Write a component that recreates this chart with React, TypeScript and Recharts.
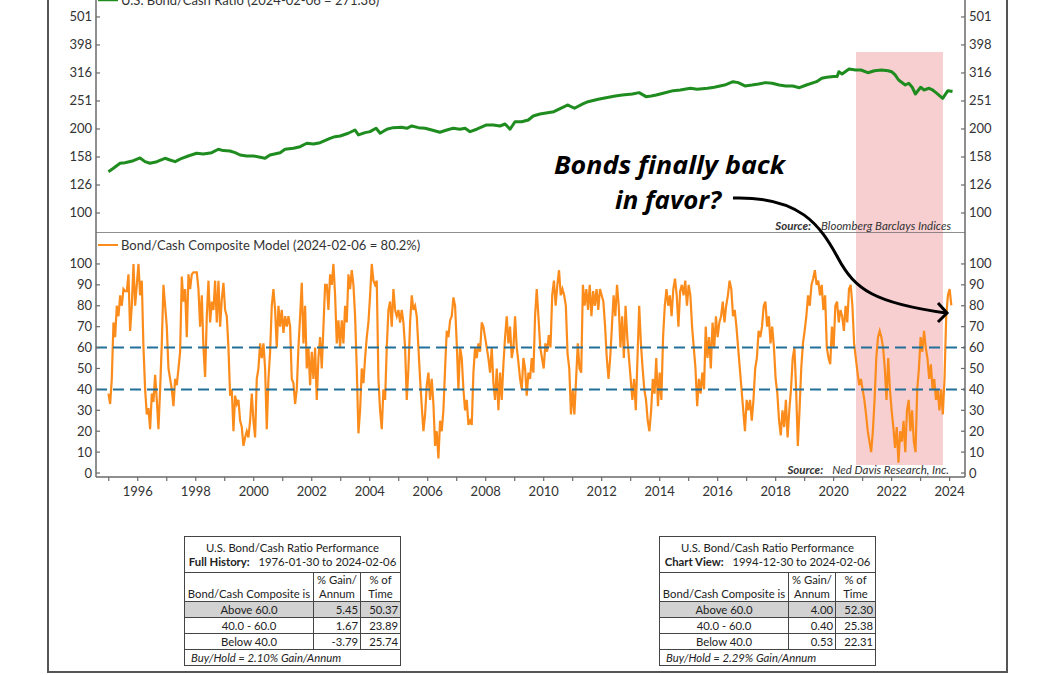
import { Line, LineChart, ReferenceArea, ReferenceLine, XAxis, YAxis } from "recharts";

// ---- top panel: U.S. Bond/Cash Ratio (log scale) ----
const ratioDates = [
  1994.99, 1995.16, 1995.39, 1995.56, 1995.85, 1996.08, 1996.25, 1996.42, 1996.66, 1996.94,
  1997.11, 1997.29, 1997.52, 1997.74, 1998.03, 1998.26, 1998.55, 1998.78, 1998.95, 1999.18,
  1999.36, 1999.53, 1999.76, 1999.99, 2000.22, 2000.39, 2000.56, 2000.91, 2001.08, 2001.37,
  2001.6, 2001.83, 2002.06, 2002.29, 2002.63, 2002.8, 2002.98, 2003.26, 2003.49, 2003.61,
  2003.84, 2004.01, 2004.22, 2004.36, 2004.59, 2004.81, 2005.1, 2005.28, 2005.45, 2005.68,
  2005.91, 2006.14, 2006.42, 2006.66, 2006.88, 2007.11, 2007.29, 2007.46, 2007.69, 2008.03,
  2008.26, 2008.49, 2008.67, 2008.84, 2009.01, 2009.24, 2009.47, 2009.64, 2009.87, 2010.35,
  2010.71, 2010.82, 2011.06, 2011.35, 2011.53, 2011.88, 2012.24, 2012.47, 2012.71, 2013.06,
  2013.29, 2013.53, 2013.71, 2013.88, 2014.12, 2014.47, 2014.71, 2015.06, 2015.29, 2015.65,
  2015.88, 2016.24, 2016.53, 2016.71, 2016.94, 2017.18, 2017.41, 2017.65, 2017.88, 2018.12,
  2018.35, 2018.59, 2018.82, 2019.06, 2019.41, 2019.59, 2019.76, 2020.0, 2020.12, 2020.18,
  2020.29, 2020.53, 2020.76, 2020.94, 2021.18, 2021.41, 2021.65, 2021.88, 2022.0, 2022.12,
  2022.24, 2022.47, 2022.59, 2022.71, 2022.82, 2023.0, 2023.12, 2023.29, 2023.41, 2023.53,
  2023.76, 2023.94, 2024.1
];
const ratioValues = [
  140.4, 144.4, 150.5, 151.2, 153.7, 157.2, 152.5, 150.5, 152.5, 156.8,
  154.6, 152.5, 156.8, 159.8, 163.4, 162.4, 164.2, 168.9, 167, 166.5,
  164.2, 161.1, 159.8, 159.8, 158.1, 156.8, 161.1, 164.2, 168.9, 170.2,
  172.5, 177.4, 176.4, 178.3, 184.8, 187.3, 188.4, 192.6, 197.9, 190,
  193.6, 195.2, 200.7, 192.6, 199.1, 201.7, 202.4, 200.7, 204.5, 201.7,
  200.7, 197.9, 194.2, 197.9, 200.7, 199.1, 200.7, 195.2, 199.1, 206.2,
  206.2, 204.5, 207.9, 199.1, 211.8, 211.8, 214.8, 222, 225.7, 230,
  239.8, 243.1, 236.6, 245.1, 249.7, 254.7, 258.8, 261.7, 263.8, 266.1,
  269, 260.3, 261.7, 263.8, 267.6, 273.4, 275, 278.8, 276.6, 278.8,
  281.2, 286.4, 294.4, 292.1, 284.2, 286.4, 288.9, 292.1, 290.6, 286.4,
  284.2, 284.2, 280.2, 286.4, 294.4, 302.7, 305.3, 306.9, 306.9, 319.6,
  313.6, 326.6, 324.1, 324.1, 316.9, 322.2, 324.1, 322.2, 319.6, 311.1,
  298.5, 286.4, 290.6, 281.2, 266, 281.2, 275, 278.8, 275, 269,
  256.8, 273.4, 271.36
];
const ratioTicks = [100, 125.89, 158.49, 199.53, 251.19, 316.23, 398.11, 501.19];
const ratioDomain = [84.83, 679.2];

// ---- bottom panel: Bond/Cash Composite Model, sampled on a regular date grid ----
const compositeStartA = 1994.99;
const compositeStepA = 5 / 87;
const compositeA = [
  38, 33, 45, 72, 65, 80, 75, 85, 80, 88, 87, 87, 95, 68, 80, 100, 80, 90, 100, 85,
  92, 60, 40, 28, 31, 21, 38, 34, 47, 35, 21, 40, 62, 90, 80, 70, 50, 45, 40, 32,
  45, 42, 50, 58, 94, 82, 88, 65, 95, 88, 95, 96, 96, 96, 88, 70, 85, 60, 46, 75,
  92, 72, 82, 78, 92, 72, 92, 70, 83, 91, 78, 75, 60, 37, 40, 20, 37, 33, 35, 25,
  22, 13, 17, 20, 17, 25, 38, 25, 17, 45, 50, 62, 55, 62, 50, 21, 45, 58, 80, 88,
  78, 60, 80, 70, 78, 67, 75, 70, 75, 70, 45, 43, 33, 40, 60, 75, 91, 62, 80, 50,
  60, 42, 58, 45, 60, 35, 55, 65, 50, 70, 90, 90, 78, 95, 90, 100, 85, 62, 73, 60,
  73, 62, 80, 72, 95, 88, 97, 90, 75, 50, 19, 30, 50, 43, 55, 65, 72, 85, 100, 92,
  90, 92, 45, 30, 21, 40, 35, 60, 78, 82, 70, 88, 78, 75, 78, 72, 78, 72, 60, 35,
  50, 72, 85, 78, 80, 75, 60, 45, 32, 20, 28, 42, 48, 35, 45, 33, 13, 20, 7, 25,
  20, 30, 50, 68, 65, 73, 75, 84, 80, 62, 40, 60, 55, 40, 30, 35, 23, 25, 23, 48,
  60, 55, 62, 58, 72, 70, 65, 60, 55, 48, 60, 43, 35, 50, 30, 48, 35, 52, 65, 75,
  62, 70, 55, 60, 75, 60, 53, 45, 40, 55, 50, 37, 48, 45, 55, 48, 75, 88, 75
];
const compositeStartB = 2009.882;
const compositeStepB = 5 / 85;
const compositeB = [
  60, 55, 50, 62, 58, 66, 60, 85, 92, 80, 90, 97, 85, 88, 85, 80, 57, 50, 28, 40,
  28, 45, 62, 50, 48, 90, 80, 88, 78, 90, 75, 87, 80, 88, 78, 88, 85, 82, 70, 55,
  45, 55, 70, 85, 75, 90, 80, 60, 75, 55, 80, 65, 55, 45, 35, 45, 30, 55, 80, 62,
  50, 40, 35, 25, 20, 30, 45, 38, 55, 32, 48, 35, 65, 80, 88, 80, 85, 75, 88, 93,
  85, 70, 87, 90, 85, 92, 80, 90, 85, 70, 60, 50, 32, 45, 38, 48, 40, 70, 55, 65,
  50, 72, 60, 75, 65, 72, 75, 82, 72, 80, 85, 92, 88, 75, 78, 70, 60, 50, 40, 30,
  20, 35, 30, 35, 25, 35, 50, 55, 68, 65, 70, 80, 82, 70, 75, 62, 70, 60, 45, 38,
  25, 18, 30, 22, 35, 17, 30, 40, 55, 60, 40, 13, 30, 50, 62, 68, 75, 85, 80, 90,
  93, 97, 90, 92, 85, 90, 78, 85, 60, 55, 52, 70, 60, 80, 82, 72, 78, 75, 68, 80,
  72, 88, 90, 80, 62, 55, 48, 42, 45, 40, 35, 28, 20, 15, 10, 20, 35, 55, 65, 68,
  65, 60, 50, 35, 55, 40, 30, 22, 12, 22, 5, 20, 15, 25, 10, 30, 35, 20, 30, 15,
  10, 40, 50, 65, 58, 68, 60, 55, 45, 52, 40, 45, 35, 40, 30, 40, 28, 45, 75, 85,
  88, 80.2
];
const compositeTicks = [0, 10, 20, 30, 40, 50, 60, 70, 80, 90, 100];
const compositeDomain = [-1.9, 114.8];
const thresholds = [60, 40];

const yearTicks = [
  1995, 1996, 1997, 1998, 1999, 2000, 2001, 2002, 2003, 2004, 2005, 2006, 2007, 2008, 2009,
  2010, 2011, 2012, 2013, 2014, 2015, 2016, 2017, 2018, 2019, 2020, 2021, 2022, 2023, 2024
];
const xDomain = [1994.56, 2024.53];

// shaded period (late 2020 to late 2023)
const shadeStart = 2020.77;
const shadeEnd = 2023.77;
const shadeRatioTop = 376;
const shadeCompositeBottom = 3.8;

// ---- tables ----
const tableRows = ["Above 60.0", "40.0 - 60.0", "Below 40.0"];
const fullGain = [5.45, 1.67, -3.79];
const fullTime = [50.37, 23.89, 25.74];
const viewGain = [4.0, 0.4, 0.53];
const viewTime = [52.3, 25.38, 22.31];

const ratioData = ratioDates.map((t, i) => ({ t, v: ratioValues[i] }));
const compositeData = [
  ...compositeA.map((v, i) => ({ t: compositeStartA + i * compositeStepA, v })),
  ...compositeB.map((v, i) => ({ t: compositeStartB + i * compositeStepB, v }))
];

const AXIS = "#6a6a6a";
const LABEL = "#333";
const GREEN = "#1f8c1f";
const ORANGE = "#fb8c1c";
const DASH = "#22709a";
const PINK = "#f8cfd1";

function leftTick(fmt: (v: number) => string) {
  return (props: any) => {
    const { x, y, payload } = props;
    return (
      <g>
        <line x1={x + 4} x2={x + 8} y1={y} y2={y} stroke={AXIS} strokeWidth={1.2} />
        <text x={x} y={y} dy={4.5} textAnchor="end" fontSize={13} fill={LABEL}>
          {fmt(payload.value)}
        </text>
      </g>
    );
  };
}

function rightTick(fmt: (v: number) => string) {
  return (props: any) => {
    const { x, y, payload } = props;
    return (
      <g>
        <line x1={x - 4} x2={x - 8} y1={y} y2={y} stroke={AXIS} strokeWidth={1.2} />
        <text x={x} y={y} dy={4.5} textAnchor="start" fontSize={13} fill={LABEL}>
          {fmt(payload.value)}
        </text>
      </g>
    );
  };
}

const roundFmt = (v: number) => String(Math.round(v));

function PerfTable({
  left,
  label,
  range,
  gains,
  times,
  buyHold
}: {
  left: number;
  label: string;
  range: string;
  gains: number[];
  times: number[];
  buyHold: string;
}) {
  const cell: React.CSSProperties = { border: "1px solid #444", padding: "0 2px", whiteSpace: "nowrap" };
  return (
    <table
      style={{
        position: "absolute",
        left,
        top: 536,
        width: 216,
        tableLayout: "fixed",
        borderCollapse: "collapse",
        border: "1.5px solid #444",
        fontSize: 11.3,
        lineHeight: "14px",
        color: "#222",
        fontFamily: "Lato"
      }}
    >
      <colgroup>
        <col style={{ width: 129 }} />
        <col style={{ width: 47 }} />
        <col style={{ width: 40 }} />
      </colgroup>
      <tbody>
        <tr style={{ height: 36 }}>
          <td colSpan={3} style={{ ...cell, textAlign: "center" }}>
            U.S. Bond/Cash Ratio Performance
            <br />
            <b>{label}</b>&nbsp;&nbsp; {range}
          </td>
        </tr>
        <tr style={{ height: 29 }}>
          <td style={{ ...cell, textAlign: "center", verticalAlign: "bottom" }}>Bond/Cash Composite is</td>
          <td style={{ ...cell, textAlign: "center" }}>
            % Gain/
            <br />
            Annum
          </td>
          <td style={{ ...cell, textAlign: "center" }}>
            % of
            <br />
            Time
          </td>
        </tr>
        {tableRows.map((r, i) => (
          <tr key={r} style={{ height: 16, background: i === 0 ? "#d2d2d2" : "#fff" }}>
            <td style={{ ...cell, textAlign: "center" }}>{r}</td>
            <td style={{ ...cell, textAlign: "right" }}>{gains[i].toFixed(2)}</td>
            <td style={{ ...cell, textAlign: "right" }}>{times[i].toFixed(2)}</td>
          </tr>
        ))}
        <tr style={{ height: 16 }}>
          <td colSpan={3} style={{ ...cell, fontStyle: "italic", paddingLeft: 6 }}>
            Buy/Hold = {buyHold}% Gain/Annum
          </td>
        </tr>
      </tbody>
    </table>
  );
}

export default function App() {
  return (
    <div
      style={{
        position: "absolute",
        left: 0,
        top: 0,
        width: 1056,
        height: 675,
        overflow: "hidden",
        background: "#fff",
        fontFamily: "Lato"
      }}
    >
      <div style={{ position: "absolute", left: 0, top: -20 }}>
        <LineChart width={1056} height={253} data={ratioData} margin={{ top: 0, right: 0, bottom: 0, left: 0 }}>
          <ReferenceArea
            yAxisId="left"
            x1={shadeStart}
            x2={shadeEnd}
            y1={ratioDomain[0]}
            y2={shadeRatioTop}
            fill={PINK}
            fillOpacity={1}
            stroke="none"
          />
          <XAxis type="number" dataKey="t" domain={xDomain} allowDataOverflow hide />
          <YAxis
            yAxisId="left"
            scale="log"
            domain={ratioDomain}
            ticks={ratioTicks}
            allowDataOverflow
            interval={0}
            width={96}
            tickSize={0}
            tickMargin={4}
            tickLine={false}
            axisLine={{ stroke: AXIS, strokeWidth: 1.5 }}
            tick={leftTick(roundFmt)}
          />
          <YAxis
            yAxisId="right"
            orientation="right"
            scale="log"
            domain={ratioDomain}
            ticks={ratioTicks}
            allowDataOverflow
            interval={0}
            width={91}
            tickSize={0}
            tickMargin={4}
            tickLine={false}
            axisLine={{ stroke: AXIS, strokeWidth: 1.5 }}
            tick={rightTick(roundFmt)}
          />
          <Line
            yAxisId="left"
            dataKey="v"
            type="linear"
            stroke={GREEN}
            strokeWidth={3}
            strokeLinejoin="round"
            dot={false}
            isAnimationActive={false}
          />
          <ReferenceLine yAxisId="left" y={ratioDomain[0]} stroke={AXIS} strokeWidth={1.5} />
        </LineChart>
      </div>

      <div style={{ position: "absolute", left: 0, top: 233 }}>
        <LineChart width={1056} height={274} data={compositeData} margin={{ top: 0, right: 0, bottom: 0, left: 0 }}>
          <ReferenceArea
            yAxisId="left"
            x1={shadeStart}
            x2={shadeEnd}
            y1={shadeCompositeBottom}
            y2={compositeDomain[1]}
            fill={PINK}
            fillOpacity={1}
            stroke="none"
          />
          <XAxis
            type="number"
            dataKey="t"
            domain={xDomain}
            allowDataOverflow
            ticks={yearTicks}
            interval={0}
            height={30}
            tickSize={4}
            tickMargin={6}
            tickFormatter={(y: number) => (y % 2 === 0 ? String(y) : "")}
            axisLine={{ stroke: AXIS, strokeWidth: 1.5 }}
            tickLine={{ stroke: AXIS, strokeWidth: 1.2 }}
            tick={{ fontSize: 13, fill: LABEL }}
          />
          <YAxis
            yAxisId="left"
            domain={compositeDomain}
            ticks={compositeTicks}
            allowDataOverflow
            interval={0}
            width={96}
            tickSize={0}
            tickMargin={4}
            tickLine={false}
            axisLine={{ stroke: AXIS, strokeWidth: 1.5 }}
            tick={leftTick(roundFmt)}
          />
          <YAxis
            yAxisId="right"
            orientation="right"
            domain={compositeDomain}
            ticks={compositeTicks}
            allowDataOverflow
            interval={0}
            width={91}
            tickSize={0}
            tickMargin={4}
            tickLine={false}
            axisLine={{ stroke: AXIS, strokeWidth: 1.5 }}
            tick={rightTick(roundFmt)}
          />
          <Line
            yAxisId="left"
            dataKey="v"
            type="linear"
            stroke={ORANGE}
            strokeWidth={2.2}
            dot={false}
            isAnimationActive={false}
          />
          {thresholds.map((t) => (
            <ReferenceLine
              key={t}
              yAxisId="left"
              y={t}
              stroke={DASH}
              strokeWidth={2}
              strokeDasharray="11 6"
            />
          ))}
        </LineChart>
      </div>

      {/* legends, sources, annotation and frame */}
      <svg
        width={1056}
        height={675}
        style={{ position: "absolute", left: 0, top: 0, pointerEvents: "none" }}
      >
        <line x1={48} x2={48} y1={0} y2={673} stroke="#555" strokeWidth={2} />
        <line x1={1007} x2={1007} y1={0} y2={673} stroke="#555" strokeWidth={2} />
        <line x1={47} x2={1008} y1={672} y2={672} stroke="#555" strokeWidth={2} />

        <line x1={98} x2={118} y1={0} y2={0} stroke={GREEN} strokeWidth={2.5} />
        <text x={121} y={4.5} fontSize={13} fill={LABEL}>
          U.S. Bond/Cash Ratio (2024-02-06 = 271.36)
        </text>
        <line x1={98} x2={118} y1={245} y2={245} stroke={ORANGE} strokeWidth={2} />
        <text x={121} y={249.5} fontSize={13} fill={LABEL}>
          Bond/Cash Composite Model (2024-02-06 = 80.2%)
        </text>

        <text x={951} y={230} fontSize={11.5} fontStyle="italic" textAnchor="end" fill={LABEL}>
          <tspan fontWeight="bold">Source:</tspan>
          <tspan dx={10}>Bloomberg Barclays Indices</tspan>
        </text>
        <text x={949} y={474} fontSize={11.5} fontStyle="italic" textAnchor="end" fill={LABEL}>
          <tspan fontWeight="bold">Source:</tspan>
          <tspan dx={9}>Ned Davis Research, Inc.</tspan>
        </text>

        <text
          x={554}
          y={174}
          fontSize={25}
          fontFamily="'Open Sans'"
          fontWeight="bold"
          fontStyle="italic"
          fill="#000"
          textLength={231}
          lengthAdjust="spacingAndGlyphs"
        >
          Bonds finally back
        </text>
        <text
          x={615}
          y={209}
          fontSize={25}
          fontFamily="'Open Sans'"
          fontWeight="bold"
          fontStyle="italic"
          fill="#000"
          textLength={106}
          lengthAdjust="spacingAndGlyphs"
        >
          in favor?
        </text>
        <path
          d="M 733 198 C 800 196, 820 225, 838 258 C 855 290, 875 303, 946 313"
          fill="none"
          stroke="#000"
          strokeWidth={3}
        />
        <path d="M 938 303 L 947 313 L 938 322" fill="none" stroke="#000" strokeWidth={3} />
      </svg>

      <PerfTable
        left={184}
        label="Full History:"
        range="1976-01-30 to 2024-02-06"
        gains={fullGain}
        times={fullTime}
        buyHold="2.10"
      />
      <PerfTable
        left={659}
        label="Chart View:"
        range="1994-12-30 to 2024-02-06"
        gains={viewGain}
        times={viewTime}
        buyHold="2.29"
      />
    </div>
  );
}
